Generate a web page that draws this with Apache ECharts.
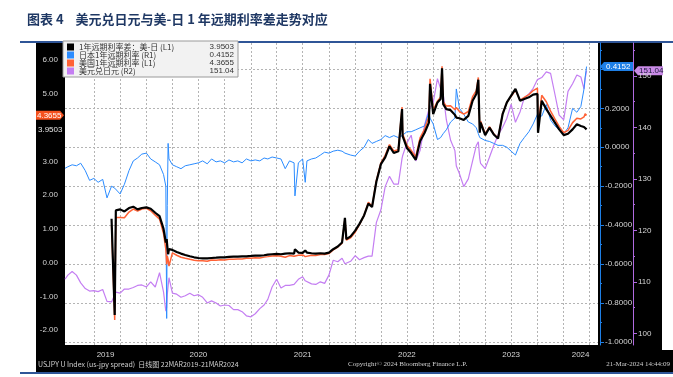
<!DOCTYPE html>
<html>
<head>
<meta charset="utf-8">
<script src="https://cdn.jsdelivr.net/npm/echarts@6/dist/echarts.min.js"></script>
<style>
html, body { margin: 0; padding: 0; background: #fff; }
#main { width: 673px; height: 377px; }
</style>
</head>
<body>
<div id="main"></div>
<script>
var chartDom = document.getElementById('main');
var myChart = echarts.init(chartDom);
var option;

// sample dates (semi-monthly, plus a few single-day spikes)
let dates = [
  '2019-03-22','2019-04-01','2019-04-16','2019-05-01','2019-05-16','2019-06-01','2019-06-16','2019-07-01','2019-07-16','2019-08-01',
  '2019-08-16','2019-09-01','2019-09-12','2019-09-16','2019-10-01','2019-10-16','2019-11-01','2019-11-16','2019-12-01','2019-12-16',
  '2020-01-01','2020-01-16','2020-02-01','2020-02-16','2020-03-01','2020-03-09','2020-03-12','2020-03-14','2020-03-17','2020-03-20',
  '2020-04-01','2020-04-16','2020-05-01','2020-05-16','2020-06-01','2020-06-16','2020-07-01','2020-07-16','2020-08-01','2020-08-16',
  '2020-09-01','2020-09-16','2020-10-01','2020-10-16','2020-11-01','2020-11-16','2020-12-01','2020-12-16','2021-01-01','2021-01-16',
  '2021-02-01','2021-02-16','2021-03-01','2021-03-16','2021-04-01','2021-04-16','2021-05-01','2021-05-16','2021-06-01','2021-06-04',
  '2021-06-16','2021-07-01','2021-07-10','2021-07-16','2021-08-01','2021-08-16','2021-09-01','2021-09-16','2021-10-01','2021-10-16',
  '2021-11-01','2021-11-16','2021-11-26','2021-12-01','2021-12-16','2022-01-01','2022-01-16','2022-02-01','2022-02-16','2022-03-01',
  '2022-03-16','2022-04-01','2022-04-16','2022-05-01','2022-05-16','2022-06-01','2022-06-14','2022-06-16','2022-07-01','2022-07-16',
  '2022-08-01','2022-08-16','2022-09-01','2022-09-16','2022-09-20','2022-10-01','2022-10-16','2022-10-27','2022-11-01','2022-11-05',
  '2022-11-16','2022-12-01','2022-12-16','2022-12-21','2023-01-01','2023-01-16','2023-02-01','2023-02-16','2023-03-01','2023-03-08',
  '2023-03-13','2023-03-16','2023-04-01','2023-04-16','2023-05-01','2023-05-16','2023-06-01','2023-06-16','2023-07-01','2023-07-16',
  '2023-08-01','2023-08-16','2023-09-01','2023-09-16','2023-10-01','2023-10-03','2023-10-16','2023-11-01','2023-11-16','2023-12-01',
  '2023-12-16','2024-01-01','2024-01-16','2024-02-01','2024-02-16','2024-03-01','2024-03-12','2024-03-16','2024-03-21'
];

// 1年远期利率差：美-日 (L1)
let spreadUsJp = [
  null, null, null, null, null, null, null, null, null, null,
  null, 1.30, -1.55, 1.55, 1.58, 1.52, 1.62, 1.66, 1.58, 1.62,
  1.64, 1.60, 1.48, 1.38, 1.00, 0.60, 0.70, 0.50, 0.25, 0.40,
  0.38, 0.32, 0.27, 0.23, 0.19, 0.16, 0.14, 0.13, 0.13, 0.14,
  0.15, 0.16, 0.16, 0.17, 0.18, 0.18, 0.19, 0.19, 0.20, 0.21,
  0.21, 0.22, 0.24, 0.25, 0.26, 0.25, 0.27, 0.28, 0.27, 0.40,
  0.30, 0.29, 0.36, 0.30, 0.28, 0.27, 0.28, 0.27, 0.30, 0.40,
  0.48, 0.60, 1.33, 0.70, 0.78, 0.95, 1.15, 1.40, 1.75, 1.65,
  2.40, 2.92, 3.12, 3.45, 3.25, 3.30, 4.55, 3.75, 3.40, 3.25,
  3.05, 3.60, 3.85, 4.15, 5.30, 4.40, 4.75, 4.85, 5.76, 4.70,
  4.55, 4.52, 4.38, 4.30, 4.28, 4.23, 4.35, 4.80, 5.00, 5.42,
  3.85, 4.15, 3.78, 4.00, 3.80, 3.68, 4.40, 4.75, 4.95, 5.15,
  4.80, 4.85, 4.90, 4.98, 5.00, 3.85, 4.80, 4.55, 4.35, 4.15,
  3.95, 3.78, 3.82, 3.95, 4.10, 4.05, 4.02, 4.05, 3.9503
];

// 日本1年远期利率 (R1)
let jpRate = [
  -0.108, -0.10, -0.09, -0.095, -0.082, -0.12, -0.17, -0.16, -0.18, -0.165,
  -0.26, -0.20, -0.21, -0.21, -0.24, -0.19, -0.12, -0.07, -0.055, -0.035,
  -0.03, -0.06, -0.075, -0.09, -0.14, -0.20, -0.88, -0.30, 0.02, -0.06,
  -0.09, -0.10, -0.11, -0.095, -0.09, -0.085, -0.08, -0.07, -0.085, -0.06,
  -0.075, -0.07, -0.08, -0.065, -0.075, -0.07, -0.08, -0.06, -0.07, -0.065,
  -0.07, -0.055, -0.06, -0.05, -0.055, -0.06, -0.11, -0.07, -0.08, -0.25,
  -0.08, -0.06, -0.18, -0.07, -0.06, -0.055, -0.04, -0.025, -0.03, -0.02,
  -0.015, -0.02, -0.03, -0.03, -0.04, -0.045, -0.02, 0.00, 0.04, 0.02,
  0.03, 0.04, 0.06, 0.05, 0.06, 0.05, 0.06, 0.07, 0.08, 0.08,
  0.09, 0.10, 0.11, 0.18, 0.15, 0.12, 0.04, 0.05, 0.06, 0.07,
  0.09, 0.13, 0.15, 0.30, 0.20, 0.17, 0.13, 0.12, 0.10, 0.07,
  0.05, 0.05, 0.035, 0.03, 0.02, 0.01, 0.01, 0.00, -0.02, -0.04,
  0.02, 0.05, 0.08, 0.12, 0.17, 0.17, 0.16, 0.22, 0.14, 0.11,
  0.09, 0.07, 0.10, 0.20, 0.18, 0.21, 0.30, 0.36, 0.4152
];

// 美国1年远期利率 (L1)
let usRate = [
  null, null, null, null, null, null, null, null, null, null,
  null, 1.10, -1.70, 1.34, 1.34, 1.33, 1.50, 1.59, 1.53, 1.59,
  1.61, 1.54, 1.41, 1.29, 0.86, 0.40, -0.05, 0.20, 0.10, -0.10,
  0.29, 0.22, 0.16, 0.13, 0.10, 0.075, 0.06, 0.06, 0.045, 0.08,
  0.075, 0.09, 0.08, 0.105, 0.105, 0.11, 0.11, 0.13, 0.13, 0.145,
  0.14, 0.165, 0.18, 0.20, 0.205, 0.19, 0.16, 0.21, 0.19, 0.15,
  0.22, 0.23, 0.18, 0.23, 0.22, 0.215, 0.24, 0.245, 0.27, 0.38,
  0.465, 0.58, 1.30, 0.67, 0.74, 0.905, 1.13, 1.40, 1.79, 1.67,
  2.43, 2.96, 3.18, 3.50, 3.31, 3.35, 4.61, 3.82, 3.48, 3.33,
  3.14, 3.70, 3.96, 4.33, 5.45, 4.52, 4.79, 4.90, 5.82, 4.77,
  4.64, 4.65, 4.53, 4.60, 4.48, 4.40, 4.48, 4.92, 5.10, 5.49,
  3.90, 4.20, 3.82, 4.03, 3.82, 3.69, 4.41, 4.75, 4.93, 5.11,
  4.82, 4.90, 4.98, 5.10, 5.17, 4.02, 4.96, 4.77, 4.49, 4.26,
  4.04, 3.85, 3.92, 4.15, 4.28, 4.26, 4.32, 4.41, 4.3655
];

// 美元兑日元 (R2)
let usdjpy = [
  110.5, 111.3, 112.0, 111.3, 109.8, 108.7, 108.2, 108.3, 108.1, 108.5,
  106.2, 106.1, 107.5, 108.0, 107.8, 108.6, 108.6, 108.9, 109.3, 109.4,
  109.0, 110.0, 109.0, 111.8, 108.0, 104.3, 105.0, 107.5, 107.5, 110.8,
  107.8, 107.6, 107.0, 107.3, 107.8, 107.3, 107.5, 107.0, 105.9, 106.3,
  105.9, 105.3, 105.5, 105.4, 104.6, 104.6, 104.2, 103.4, 103.2, 103.8,
  104.8, 105.5, 106.6, 109.0, 110.5, 108.8, 109.3, 109.3, 109.5, 109.5,
  110.5, 111.0, 110.2, 110.0, 109.6, 109.5, 110.0, 109.7, 111.3, 114.2,
  113.9, 114.6, 113.5, 113.2, 114.0, 115.1, 114.3, 114.7, 115.0, 115.0,
  121.5, 124.0, 128.5, 130.5, 129.0, 129.0, 134.0, 134.5, 137.0, 138.5,
  133.5, 135.5, 140.5, 143.5, 143.8, 144.8, 149.5, 147.5, 148.0, 146.5,
  141.5, 137.5, 135.5, 132.5, 131.0, 128.5, 130.0, 133.5, 136.5, 137.2,
  134.0, 133.0, 132.0, 134.2, 136.5, 138.5, 140.0, 141.8, 144.5, 141.0,
  143.0, 145.8, 146.5, 147.6, 149.3, 149.0, 149.7, 150.8, 150.5, 146.5,
  142.4, 141.5, 147.0, 148.5, 150.2, 149.8, 147.5, 149.5, 151.04
];

// axis ticks
let quarterDates = [
  '2019-07-01','2019-10-01','2020-01-01','2020-04-01','2020-07-01','2020-10-01','2021-01-01','2021-04-01',
  '2021-07-01','2021-10-01','2022-01-01','2022-04-01','2022-07-01','2022-10-01','2023-01-01','2023-04-01',
  '2023-07-01','2023-10-01','2024-01-01','2024-04-01'
];
let yearLabelDates = ['2019-08-11','2020-07-01','2021-07-01','2022-07-01','2023-07-01','2024-02-29'];
let xStart = '2019-03-22';
let xEnd = '2024-04-30';
let leftLabels = [-2, -1, 0, 1, 2, 3, 5, 6];   // 4.00 sits under the value tags
let jpTicks = [-1.0, -0.8, -0.6, -0.4, -0.2, 0.0, 0.2, 0.4];
let jpLabels = [-1.0, -0.8, -0.6, -0.4, -0.2, 0.0, 0.2];
let jpMinorTicks = [-0.9, -0.7, -0.5, -0.3, -0.1, 0.1, 0.3, 0.5];
let fxTicks = [100, 110, 120, 130, 140, 150];
let fxMinorTicks = [105, 115, 125, 135, 145, 155];

let names = ['1年远期利率差：美-日 (L1)', '日本1年远期利率 (R1)', '美国1年远期利率 (L1)', '美元兑日元 (R2)'];
let colors = ['#000000', '#2b8cff', '#ff6236', '#c47ef2'];

function last(arr) { return arr[arr.length - 1]; }
function ts(d) { return Date.parse(d); }
function pairs(arr) { return dates.map(function (d, i) { return [ts(d), arr[i]]; }); }

let lastValues = {};
lastValues[names[0]] = last(spreadUsJp).toFixed(4);
lastValues[names[1]] = last(jpRate).toFixed(4);
lastValues[names[2]] = last(usRate).toFixed(4);
lastValues[names[3]] = last(usdjpy).toFixed(2);

let gridLine = { show: true, lineStyle: { color: '#b4b4b4', type: [2, 2], width: 1 } };
let labelGrey = '#d4d4d4';

option = {
  animation: false,
  backgroundColor: '#fff',
  textStyle: { fontFamily: 'Liberation Sans' },
  graphic: [
    { type: 'rect', id: 'bgTop', z: -10, shape: { x: 36, y: 43, width: 626, height: 310 }, style: { fill: '#000' } },
    { type: 'rect', id: 'bgFoot', z: -10, shape: { x: 36, y: 350, width: 637, height: 22 }, style: { fill: '#000' } },
    { type: 'rect', id: 'lineTop', shape: { x: 20, y: 41, width: 653, height: 2 }, style: { fill: '#2f5597' } },
    { type: 'rect', id: 'lineBot', shape: { x: 20, y: 372, width: 653, height: 2 }, style: { fill: '#2f5597' } },
    {
      type: 'text', id: 'title', left: 27, top: 13,
      style: { text: '图表 4    美元兑日元与美-日 1 年远期利率差走势对应', fill: '#1f3864',
        font: 'bold 13px "Noto Sans CJK SC"' }
    },
    { type: 'text', id: 'f1', x: 38, y: 364, style: { text: 'USJPY U Index (us-jpy spread)  日线图 22MAR2019-21MAR2024', fill: '#cfcfcf', font: '7px "Noto Sans CJK SC"', verticalAlign: 'middle' } },
    { type: 'text', id: 'f2', x: 348, y: 364, style: { text: 'Copyright© 2024 Bloomberg Finance L.P.', fill: '#cfcfcf', font: '7px "Liberation Serif"', verticalAlign: 'middle' } },
    { type: 'text', id: 'f3', x: 670, y: 364, style: { text: '21-Mar-2024 14:44:09', fill: '#cfcfcf', font: '7px "Liberation Serif"', align: 'right', verticalAlign: 'middle' } }
  ],
  legend: {
    data: names,
    orient: 'vertical',
    left: 63,
    top: 41,
    backgroundColor: '#f2f2f2',
    borderColor: '#9a9a9a',
    borderWidth: 1,
    padding: [2, 4, 2, 4],
    itemGap: 0,
    itemWidth: 7,
    itemHeight: 7,
    icon: 'rect',
    formatter: function (name) {
      return '{n|' + name + '}{v|' + lastValues[name] + '}';
    },
    textStyle: {
      color: '#333',
      fontSize: 8,
      rich: {
        n: { width: 115, fontSize: 8, lineHeight: 8.5, fontFamily: 'Noto Sans CJK SC', color: '#333' },
        v: { width: 40, align: 'right', fontSize: 8, lineHeight: 8.5, fontFamily: 'Liberation Sans', color: '#333' }
      }
    }
  },
  grid: { left: 65, right: 75, top: 43, bottom: 32, show: true, backgroundColor: '#fff', borderWidth: 0 },
  xAxis: {
    type: 'value',
    min: ts(xStart),
    max: ts(xEnd),
    axisLine: { show: false },
    axisTick: { show: false, customValues: quarterDates.map(ts) },
    splitLine: gridLine,
    axisLabel: {
      customValues: yearLabelDates.map(ts),
      formatter: function (v) { return String(new Date(v).getUTCFullYear()); },
      color: labelGrey, fontSize: 8, margin: 6
    }
  },
  yAxis: [
    {
      type: 'value', position: 'left', min: -2.4385, max: 6.5096,
      axisLine: { show: false }, axisTick: { show: false, customValues: leftLabels },
      splitLine: { show: false },
      axisLabel: { customValues: leftLabels, formatter: function (v) { return v.toFixed(2); }, color: labelGrey, fontSize: 8, margin: 7 }
    },
    {
      type: 'value', position: 'right', offset: 2, min: -1.0165, max: 0.5362,
      axisLine: { show: true, lineStyle: { color: '#1e7fe6', width: 1 } },
      axisTick: { show: true, customValues: jpTicks, length: 4, lineStyle: { color: '#1e7fe6' } },
      splitLine: gridLine,
      axisLabel: { customValues: jpLabels, formatter: function (v) { return v.toFixed(4); }, color: labelGrey, fontSize: 8, margin: 5 }
    },
    {
      type: 'value', position: 'right', offset: 35, min: 97.727, max: 156.41,
      axisLine: { show: true, lineStyle: { color: '#b06ae0', width: 1 } },
      axisTick: { show: true, customValues: fxTicks, length: 4, lineStyle: { color: '#b06ae0' } },
      splitLine: { show: false },
      axisLabel: { customValues: fxTicks, color: labelGrey, fontSize: 8, margin: 5 }
    },
    {
      type: 'value', position: 'right', offset: 2, min: -1.0165, max: 0.5362,
      axisLine: { show: false },
      axisTick: { show: true, customValues: jpMinorTicks, length: 2, lineStyle: { color: '#1e7fe6' } },
      splitLine: { show: false }, axisLabel: { show: false }
    },
    {
      type: 'value', position: 'right', offset: 35, min: 97.727, max: 156.41,
      axisLine: { show: false },
      axisTick: { show: true, customValues: fxMinorTicks, length: 2, lineStyle: { color: '#b06ae0' } },
      splitLine: { show: false }, axisLabel: { show: false }
    }
  ],
  series: [
    { name: names[3], type: 'line', yAxisIndex: 2, data: pairs(usdjpy), showSymbol: false, symbol: 'none',
      lineStyle: { color: colors[3], width: 1.2 }, itemStyle: { color: colors[3] } },
    { name: names[1], type: 'line', yAxisIndex: 1, data: pairs(jpRate), showSymbol: false, symbol: 'none',
      lineStyle: { color: colors[1], width: 1 }, itemStyle: { color: colors[1] } },
    { name: names[2], type: 'line', yAxisIndex: 0, data: pairs(usRate), showSymbol: false, symbol: 'none',
      lineStyle: { color: colors[2], width: 1.5 }, itemStyle: { color: colors[2] } },
    { name: names[0], type: 'line', yAxisIndex: 0, data: pairs(spreadUsJp), showSymbol: false, symbol: 'none',
      lineStyle: { color: colors[0], width: 2.2 }, itemStyle: { color: colors[0] } }
  ]
};

option && myChart.setOption(option);

// value tags on the axes, placed through the axis scales
let yUs = myChart.convertToPixel({ yAxisIndex: 0 }, last(usRate));
let ySpread = myChart.convertToPixel({ yAxisIndex: 0 }, last(spreadUsJp));
let yJp = myChart.convertToPixel({ yAxisIndex: 1 }, last(jpRate));
let yFx = myChart.convertToPixel({ yAxisIndex: 2 }, last(usdjpy));

myChart.setOption({
  graphic: [
    { type: 'polygon', id: 'tagUs', shape: { points: [[36, yUs - 4.5], [60, yUs - 4.5], [64, yUs], [60, yUs + 4.5], [36, yUs + 4.5]] }, style: { fill: '#f4511e' } },
    { type: 'text', id: 'tagUsT', x: 37, y: yUs, style: { text: lastValues[names[2]], fill: '#fff', font: '8px "Liberation Sans"', verticalAlign: 'middle' } },
    { type: 'text', id: 'tagSp', x: 38, y: ySpread, style: { text: lastValues[names[0]], fill: '#e6e6e6', font: '8px "Liberation Sans"', verticalAlign: 'middle' } },
    { type: 'polygon', id: 'tagJp', shape: { points: [[600, yJp], [604, yJp - 4.5], [634, yJp - 4.5], [634, yJp + 4.5], [604, yJp + 4.5]] }, style: { fill: '#1e7fe6' } },
    { type: 'text', id: 'tagJpT', x: 606, y: yJp, style: { text: lastValues[names[1]], fill: '#fff', font: '8px "Liberation Sans"', verticalAlign: 'middle' } },
    { type: 'polygon', id: 'tagFx', shape: { points: [[634, yFx], [638, yFx - 4.5], [663, yFx - 4.5], [663, yFx + 4.5], [638, yFx + 4.5]] }, style: { fill: '#c98ae6' } },
    { type: 'text', id: 'tagFxT', x: 639, y: yFx, style: { text: lastValues[names[3]], fill: '#1a1a3a', font: '8px "Liberation Sans"', verticalAlign: 'middle' } }
  ]
});
</script>
</body>
</html>
